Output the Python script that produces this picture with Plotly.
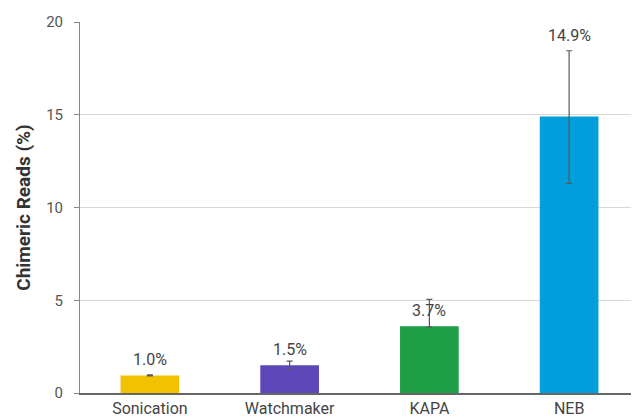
import plotly.graph_objects as go

# données
methodes = ["Sonication", "Watchmaker", "KAPA", "NEB"]
valeurs = [0.95, 1.5, 3.6, 14.9]
err_haut = [0.03, 0.22, 1.45, 3.55]
err_bas = [0.03, 0.22, 0.03, 3.6]
etiquettes = ["1.0%", "1.5%", "3.7%", "14.9%"]
couleurs = ["#F2C200", "#5E48B9", "#1F9E48", "#009FDB"]

fig = go.Figure()
fig.add_trace(go.Bar(
    x=methodes, y=valeurs, width=0.42,
    marker=dict(color=couleurs, line=dict(width=0)),
    error_y=dict(type="data", symmetric=False, array=err_haut, arrayminus=err_bas,
                 color="#5a5a5a", thickness=1.2, width=3),
))

# étiquettes au-dessus des barres (NEB au-dessus de la barre d'erreur)
for m, v, eh, lab in zip(methodes, valeurs, err_haut, etiquettes):
    y_lab = v + eh if m == "NEB" else v
    fig.add_annotation(x=m, y=y_lab, text=lab, showarrow=False, yanchor="bottom",
                       yshift=4, font=dict(size=16, color="#444444"))

# la page a une marge de 8 px : figure un peu plus petite que la fenêtre
fig.update_layout(
    width=631, height=412,
    margin=dict(l=72, r=0, t=14, b=27),
    plot_bgcolor="white", paper_bgcolor="white",
    font=dict(family="Roboto, sans-serif", color="#444444"),
    showlegend=False,
    bargap=0.58,
)
fig.update_yaxes(
    range=[0, 20], tickvals=[0, 5, 10, 15, 20],
    showgrid=True, gridcolor="#d9d9d9", gridwidth=1,
    showline=True, linecolor="#888888", linewidth=1,
    ticks="outside", ticklen=5, tickcolor="#888888",
    tickfont=dict(size=15, color="#555555"), ticklabelstandoff=8,
    zeroline=False,
    title=dict(text="<b>Chimeric Reads (%)</b>", font=dict(size=19, color="#333333"), standoff=10),
)
fig.update_xaxes(
    showline=True, linecolor="#666666", linewidth=1.5,
    tickfont=dict(size=16, color="#444444"), ticks="",
)

fig.write_html("out.html")
